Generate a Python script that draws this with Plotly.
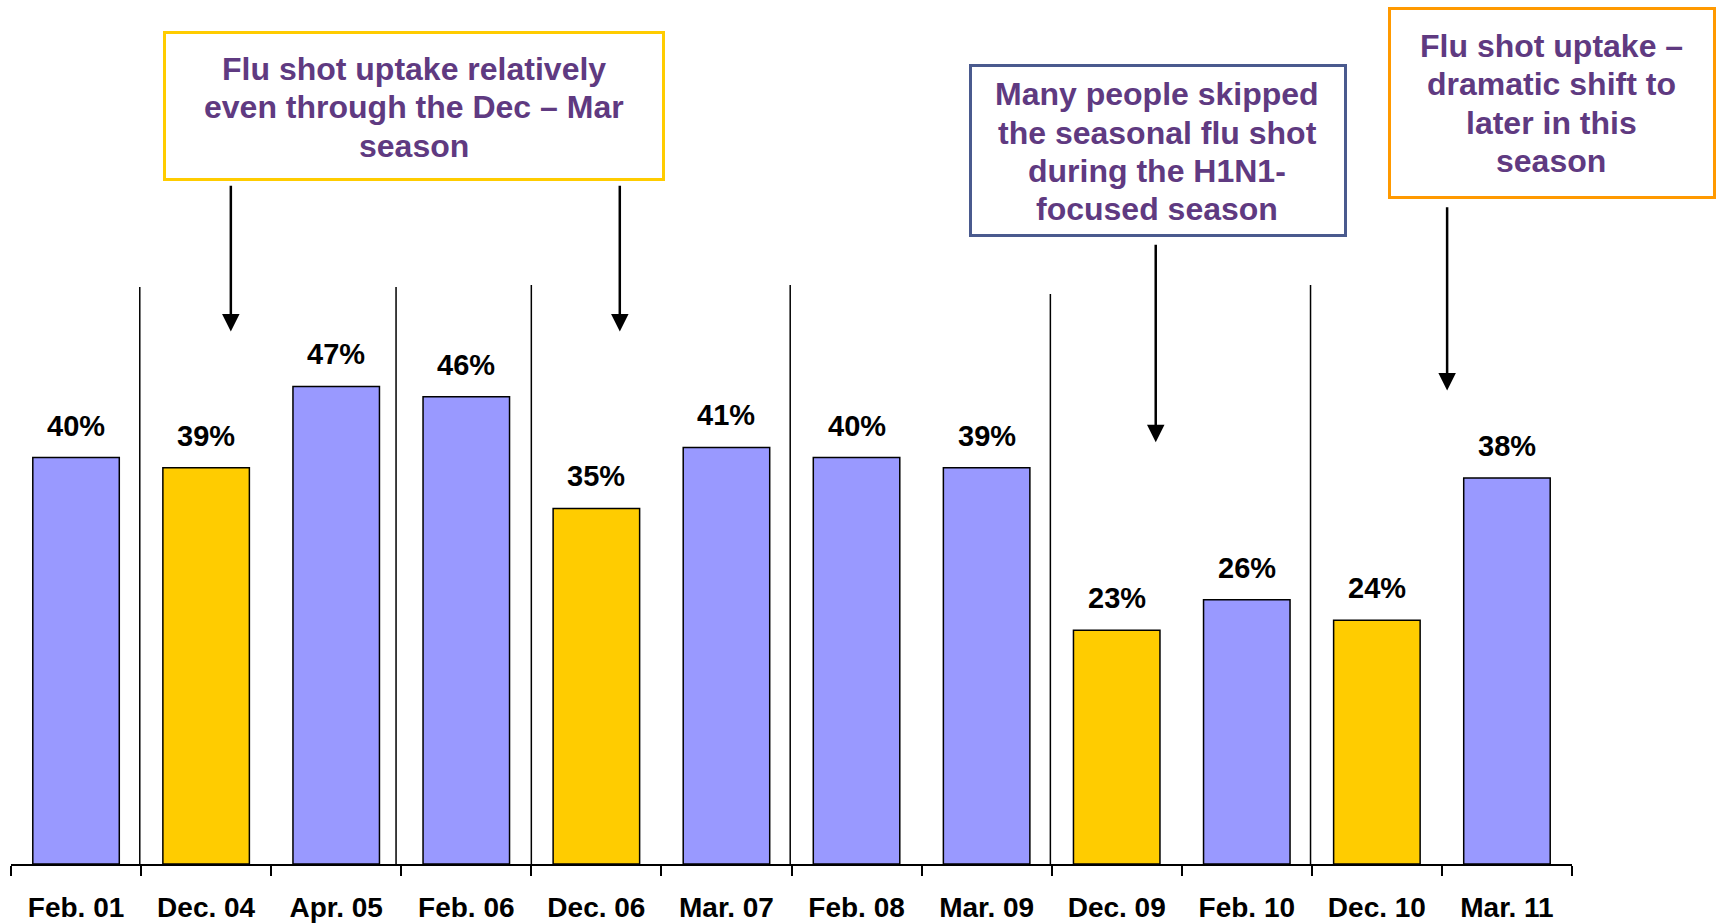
import plotly.graph_objects as go

categories = ["Feb. 01", "Dec. 04", "Apr. 05", "Feb. 06", "Dec. 06", "Mar. 07",
              "Feb. 08", "Mar. 09", "Dec. 09", "Feb. 10", "Dec. 10", "Mar. 11"]
values = [40, 39, 47, 46, 35, 41, 40, 39, 23, 26, 24, 38]
is_december = [c.startswith("Dec") for c in categories]

BLUE = "#9999FF"
GOLD = "#FFCC00"
PURPLE = "#5F3A81"
FONT = "Liberation Sans, Arial, sans-serif"

W, H = 1718, 924
ML, MR, MT, MB = 11, 146, 0, 60
PW, PH = W - ML - MR, H - MT - MB


def px_x(px):
    return (px - ML) / PW


def px_y(py):
    return (H - MB - py) / PH


colors = [GOLD if d else BLUE for d in is_december]

fig = go.Figure()
fig.add_trace(go.Bar(
    x=categories, y=values,
    marker=dict(color=colors, line=dict(color="black", width=1.5)),
    width=0.665,
    hoverinfo="skip",
))

# value labels above bars
for c, v in zip(categories, values):
    fig.add_annotation(x=c, y=v, text=f"{v}%", showarrow=False,
                       xanchor="center", yanchor="bottom", yshift=14,
                       font=dict(family=FONT, size=29, color="black", weight="bold"))

# season separator lines
separators = [(0.49, 56.8), (2.46, 56.8), (3.50, 57.0), (5.49, 57.0), (7.49, 56.1), (9.49, 57.0)]
for sx, top in separators:
    fig.add_shape(type="line", xref="x", yref="y", x0=sx, x1=sx, y0=0, y1=top,
                  line=dict(color="black", width=1.5))

# callout boxes (pixel frame: left, right, top, bottom) and text lines
boxes = [
    dict(frame=(163, 665, 31, 181), color="#FFCC00", cx=414,
         lines=["Flu shot uptake relatively", "even through the Dec – Mar", "season"],
         ly=[69, 107.5, 146]),
    dict(frame=(969, 1347, 64, 237), color="#4A5A8E", cx=1157,
         lines=["Many people skipped", "the seasonal flu shot", "during the H1N1-", "focused season"],
         ly=[94, 133, 171, 209]),
    dict(frame=(1388, 1716, 7, 199), color="#FF9900", cx=1551,
         lines=["Flu shot uptake –", "dramatic shift to", "later in this", "season"],
         ly=[46, 84, 123, 161]),
]
bw = 3
for b in boxes:
    l, r, t, btm = b["frame"]
    fig.add_shape(type="rect", xref="paper", yref="paper",
                  x0=px_x(l + bw / 2), x1=px_x(r - bw / 2),
                  y0=px_y(btm - bw / 2), y1=px_y(t + bw / 2),
                  line=dict(color=b["color"], width=bw), fillcolor="white", layer="above")
    for txt, yy in zip(b["lines"], b["ly"]):
        fig.add_annotation(x=px_x(b["cx"]), y=px_y(yy), xref="paper", yref="paper",
                           text=txt, showarrow=False, xanchor="center", yanchor="middle",
                           font=dict(family=FONT, size=32, color=PURPLE, weight="bold"))

# arrows (x, tail, head) in data coordinates
arrows = [(1.19, 66.9, 52.4), (4.18, 66.9, 52.4), (8.30, 61.1, 41.5), (10.54, 64.8, 46.6)]
for ax_, y_tail, y_head in arrows:
    fig.add_annotation(x=ax_, y=y_head, ax=ax_, ay=y_tail, xref="x", yref="y",
                       axref="x", ayref="y", text="", showarrow=True,
                       arrowhead=2, arrowsize=1.4, arrowwidth=2.5, arrowcolor="black",
                       standoff=0, startstandoff=0)

fig.update_layout(
    width=W, height=H,
    margin=dict(l=ML, r=MR, t=MT, b=MB),
    plot_bgcolor="white", paper_bgcolor="white",
    showlegend=False,
    bargap=0.335,
    font=dict(family=FONT),
)
fig.update_xaxes(
    type="category", range=[-0.5, 11.5],
    showline=True, linecolor="black", linewidth=1.5,
    ticks="outside", ticklen=10, tickwidth=1.5, tickcolor="black",
    tickson="boundaries", showgrid=False, zeroline=False,
    ticklabelstandoff=18,
    tickfont=dict(family=FONT, size=28, color="black", weight="bold"),
)
fig.update_yaxes(range=[0, 85.04], visible=False, showgrid=False, zeroline=False)

fig.write_html("out.html",
               config={"displayModeBar": False},
               post_script="document.body.style.margin='0';document.body.style.overflow='hidden';")
